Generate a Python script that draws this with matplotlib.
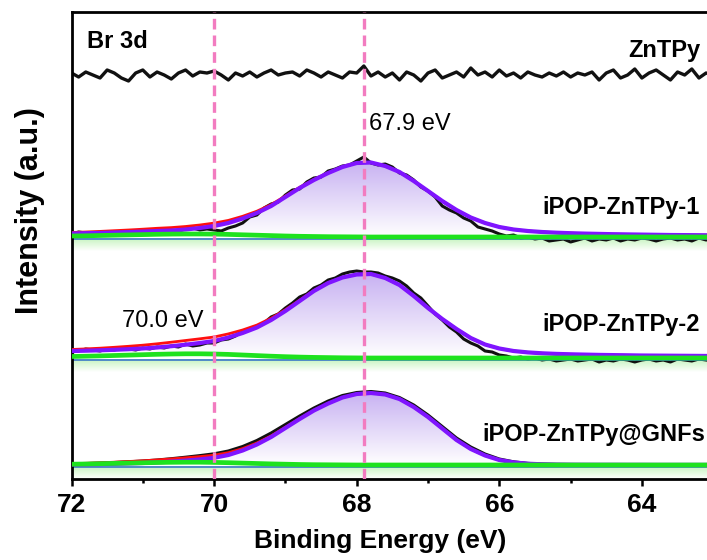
import numpy as np
import matplotlib

matplotlib.use("Agg")
from matplotlib import pyplot as plt
from matplotlib.colors import LinearSegmentedColormap

plt.rcParams["font.family"] = ["Liberation Sans", "DejaVu Sans"]

# energy axes (eV): raw spectra every 0.1 eV, fitted curves every 0.2 eV
energy_raw = np.round(np.linspace(72.0, 63.0, 91), 1)
energy_fit = np.round(np.linspace(72.0, 63.0, 46), 1)

# vertical offsets of each stacked spectrum (a.u.)
offset_zntpy = 404
offset_ipop1 = 242
offset_ipop2 = 121
offset_gnfs = 14

# ZnTPy raw signal (noise only)
raw_zntpy = [
    2, -2, 3, 0, -3, 5, 2, -3, -6, 2,
    5, -2, 3, 0, -4, 2, 5, -1, 3, 2,
    4, 0, -5, 2, -1, 3, -2, 2, 5, 0,
    2, 3, -1, 5, 2, -2, 3, 0, -3, 3,
    2, 9, -1, 3, -2, 2, -5, 3, 0, -6,
    2, 5, -3, 0, 3, -2, 7, 0, 3, -2,
    5, -1, 2, -3, 3, 0, -2, 2, -1, 3,
    -2, 2, 0, 3, -5, 2, 5, -3, 0, 6,
    -3, 2, 5, 0, -5, 3, 0, 6, -3, 2,
    0,
]

# iPOP-ZnTPy-1
raw_ipop1 = [
    3, 5, 4, 2, 4, 3, 5, 4, 6, 4,
    5, 7, 6, 8, 7, 6, 8, 9, 7, 8,
    7, 6, 9, 11, 14, 20, 22, 29, 33, 35,
    42, 47, 48, 55, 59, 60, 66, 68, 71, 72,
    76, 80, 74, 72, 73, 70, 64, 62, 57, 50,
    46, 40, 31, 27, 24, 19, 16, 10, 8, 6,
    3, 1, 2, -1, 0, -2, -1, -4, -3, -2,
    -5, -3, -1, -4, -2, -3, -1, -4, -2, -3,
    -1, -2, -4, -2, -1, -3, -2, -4, -1, -3,
    -2,
]
peak_ipop1 = [
    3.5, 3.8, 4.1, 4.5, 4.9, 5.4, 6.0, 6.5, 7.5, 9.0,
    11, 14, 18.5, 24, 31, 40, 49, 57, 64, 70,
    74, 74.5, 71, 65, 56, 46, 36, 27, 19.5, 14,
    10, 7.5, 6, 5, 4.3, 3.8, 3.4, 3.1, 2.8, 2.6,
    2.4, 2.2, 2.0, 1.9, 1.8, 1.7,
]
minor_ipop1 = [
    1.0, 1.2, 1.5, 1.8, 2.1, 2.4, 2.7, 2.9, 3.0, 3.0,
    2.9, 2.6, 2.2, 1.8, 1.4, 1.0, 0.7, 0.5, 0.3, 0.2,
    0.1, 0, 0, 0, 0, 0, 0, 0, 0, 0,
    0, 0, 0, 0, 0, 0, 0, 0, 0, 0,
    0, 0, 0, 0, 0, 0,
]

# iPOP-ZnTPy-2
raw_ipop2 = [
    6, 7, 9, 8, 7, 9, 8, 10, 9, 8,
    10, 9, 11, 10, 12, 11, 14, 12, 13, 15,
    15, 18, 19, 22, 27, 28, 32, 35, 41, 44,
    50, 55, 61, 64, 70, 73, 78, 80, 84, 86,
    87, 86, 86, 85, 82, 80, 77, 72, 65, 60,
    52, 44, 38, 31, 26, 19, 15, 12, 7, 6,
    3, 2, 0, 1, -1, 0, -2, -1, -3, -2,
    -1, -3, -2, -1, -4, -2, -3, -1, -2, -4,
    -2, -1, -3, -2, -4, -1, -2, -3, -1, -2,
    -3,
]
peak_ipop2 = [
    7, 7.3, 7.7, 8.2, 8.8, 9.5, 10.5, 11.8, 13.3, 15,
    17, 20.5, 25, 30.5, 38, 47, 57, 67, 75, 80.5,
    83.5, 84, 80, 73, 62, 50, 39, 29, 20, 13.5,
    9.5, 7, 5.6, 4.7, 4.1, 3.7, 3.4, 3.1, 2.9, 2.7,
    2.5, 2.4, 2.3, 2.2, 2.1, 2.0,
]
minor_ipop2 = [
    1.5, 1.8, 2.1, 2.5, 2.9, 3.3, 3.7, 4.0, 4.2, 4.2,
    4.0, 3.6, 3.0, 2.4, 1.8, 1.3, 0.9, 0.6, 0.4, 0.2,
    0.1, 0, 0, 0, 0, 0, 0, 0, 0, 0,
    0, 0, 0, 0, 0, 0, 0, 0, 0, 0,
    0, 0, 0, 0, 0, 0,
]

# iPOP-ZnTPy@GNFs
raw_gnfs = [
    1.0, 1.4, 1.9, 2.5, 3.2, 4.0, 5.0, 6.3, 7.8, 9.4,
    11.2, 14, 18.5, 24.5, 32, 40.5, 49, 57, 64, 69.5,
    72.5, 73.5, 72, 67.5, 60, 50, 38.5, 27, 18, 11,
    6, 3.2, 1.6, 0.9, 0.6, 0.5, 0.4, 0.4, 0.3, 0.3,
    0.3, 0.2, 0.2, 0.2, 0.2, 0.2,
]
peak_gnfs = [
    0.5, 0.7, 0.9, 1.2, 1.6, 2.0, 2.6, 3.4, 4.4, 5.6,
    7.2, 10, 14.5, 20.5, 28, 37, 46, 54.5, 61.5, 67.5,
    71, 72, 70.5, 66, 58, 48, 36.5, 25, 16, 9.5,
    5, 2.6, 1.3, 0.7, 0.4, 0.3, 0.25, 0.2, 0.2, 0.15,
    0.15, 0.1, 0.1, 0.1, 0.1, 0.1,
]
minor_gnfs = [
    0.8, 1.0, 1.3, 1.6, 1.9, 2.2, 2.5, 2.7, 2.8, 2.8,
    2.6, 2.3, 1.9, 1.5, 1.1, 0.8, 0.5, 0.3, 0.2, 0.1,
    0, 0, 0, 0, 0, 0, 0, 0, 0, 0,
    0, 0, 0, 0, 0, 0, 0, 0, 0, 0,
    0, 0, 0, 0, 0, 0,
]

ref_lines = [70.0, 67.9]

labels = [
    ("Br 3d", 71.78, 431, "bold"),
    ("ZnTPy", 64.19, 422, "bold"),
    ("67.9 eV", 67.83, 349, "normal"),
    ("iPOP-ZnTPy-1", 65.39, 265, "bold"),
    ("70.0 eV", 71.29, 152, "normal"),
    ("iPOP-ZnTPy-2", 65.39, 148, "bold"),
    ("iPOP-ZnTPy@GNFs", 66.24, 38, "bold"),
]

PURPLE = "#7f14ff"
RED = "#ff1010"
GREEN = "#1ee21e"
BLUE = "#3a78c8"
PINK = "#f27cc0"

fill_cmap = LinearSegmentedColormap.from_list("lav", ["#ffffff", "#c8b2f2"])
glow_cmap = LinearSegmentedColormap.from_list("glow", ["#ffffff", "#c6f4bf"])
grad = np.linspace(0, 1, 256).reshape(-1, 1)


def draw_fit(ax, base, raw_x, raw, peak, minor):
    peak = np.asarray(peak, dtype=float)
    minor = np.asarray(minor, dtype=float)
    top = base + peak.max()

    # purple gradient under the main component
    poly = ax.fill_between(energy_fit, base, base + peak, facecolor="none", edgecolor="none")
    img = ax.imshow(grad, extent=[63.0, 72.0, base, top], origin="lower",
                    aspect="auto", cmap=fill_cmap, zorder=1)
    img.set_clip_path(poly.get_paths()[0], transform=ax.transData)

    # light green glow under the baseline
    ax.imshow(grad, extent=[62.0, 72.0, base - 14, base - 1], origin="lower",
              aspect="auto", cmap=glow_cmap, zorder=0.9)

    ax.plot(raw_x, base + np.asarray(raw, dtype=float), color="#111111", lw=2.2, zorder=2)
    ax.plot(energy_fit, np.full(len(energy_fit), base - 1.5), color=BLUE, lw=1.2, zorder=2.5)
    ax.plot(energy_fit, base + peak + minor, color=RED, lw=2.0, zorder=3)
    ax.plot(energy_fit, base + peak, color=PURPLE, lw=3.0, zorder=3.5)
    ax.plot(energy_fit, base + minor, color=GREEN, lw=3.4, zorder=4)


fig = plt.figure(figsize=(7.07, 5.6), dpi=100)
ax = fig.add_axes([71.5 / 707, 81 / 560, 713 / 707, 467 / 560])

ax.plot(energy_raw, offset_zntpy + np.asarray(raw_zntpy, dtype=float), color="#111111", lw=2.4, zorder=2)
draw_fit(ax, offset_ipop1, energy_raw, raw_ipop1, peak_ipop1, minor_ipop1)
draw_fit(ax, offset_ipop2, energy_raw, raw_ipop2, peak_ipop2, minor_ipop2)
draw_fit(ax, offset_gnfs, energy_fit, raw_gnfs, peak_gnfs, minor_gnfs)

for xv in ref_lines:
    ax.axvline(xv, color=PINK, lw=2.4, dashes=(3.2, 1.8), zorder=5)

for text, x, y, weight in labels:
    ax.text(x, y, text, fontsize=17, fontweight=weight, ha="left", va="baseline", zorder=6)

ax.set_xlim(72, 62)
ax.set_ylim(0, 467)
ax.set_xticks([72, 70, 68, 66, 64])
ax.set_xticks([71, 69, 67, 65, 63], minor=True)
ax.set_yticks([])
ax.tick_params(axis="x", which="major", direction="out", length=5, width=1.8,
               labelsize=19, pad=5)
ax.tick_params(axis="x", which="minor", direction="out", length=3, width=1.8)
for lbl in ax.get_xticklabels():
    lbl.set_fontweight("bold")
for side in ("left", "bottom", "top", "right"):
    ax.spines[side].set_linewidth(2.0)

fig.text(380 / 707, 1 - 541 / 560, "Binding Energy (eV)", fontsize=19, fontweight="bold",
         ha="center", va="center")
fig.text(30 / 707, 1 - 211 / 560, "Intensity (a.u.)", fontsize=22, fontweight="bold",
         ha="center", va="center", rotation=90)

fig.savefig("out.png", dpi=100)
